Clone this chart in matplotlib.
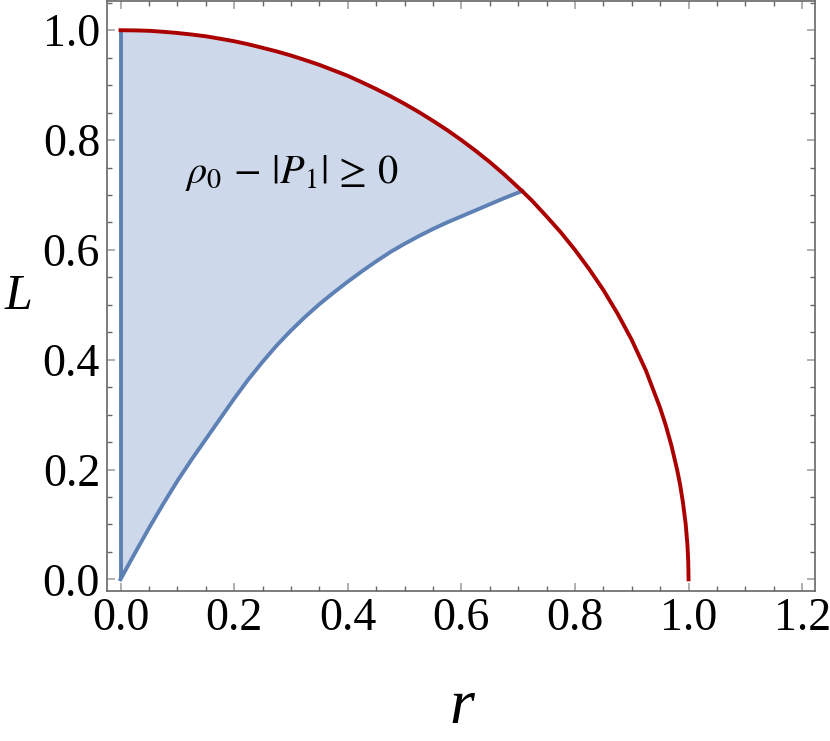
import matplotlib
matplotlib.use("Agg")
from matplotlib import pyplot as plt
from matplotlib.ticker import MultipleLocator

plt.rcParams["mathtext.fontset"] = "stix"

# Limite exterior (arco rojo)
r_arco = [0.0, 0.025, 0.05, 0.075, 0.1, 0.125, 0.15, 0.175, 0.2, 0.225, 0.25, 0.275, 0.3,
          0.325, 0.35, 0.375, 0.4, 0.425, 0.45, 0.475, 0.5, 0.525, 0.55, 0.575, 0.6, 0.625,
          0.65, 0.675, 0.7071, 0.725, 0.75, 0.775, 0.8, 0.825, 0.85, 0.875, 0.9, 0.925,
          0.95, 0.96, 0.97, 0.98, 0.985, 0.99, 0.995, 0.998, 0.9995, 1.0]
L_arco = [1.0, 0.9997, 0.999, 0.9972, 0.995, 0.9922, 0.989, 0.9846, 0.980, 0.9744, 0.968, 0.9614, 0.954,
          0.9457, 0.937, 0.927, 0.917, 0.9052, 0.893, 0.880, 0.866, 0.8511, 0.835, 0.8182, 0.800, 0.7806,
          0.760, 0.7378, 0.7071, 0.689, 0.661, 0.632, 0.600, 0.565, 0.527, 0.484, 0.436, 0.380,
          0.312, 0.280, 0.243, 0.199, 0.173, 0.141, 0.100, 0.063, 0.032, 0.0]

# Limite inferior de la region (curva azul)
r_inf = [0.0, 0.025, 0.05, 0.075, 0.1, 0.125, 0.15, 0.175, 0.2, 0.225, 0.25, 0.275, 0.3,
         0.325, 0.35, 0.375, 0.4, 0.425, 0.45, 0.475, 0.5, 0.525, 0.55, 0.575, 0.6, 0.625,
         0.65, 0.675, 0.7071]
L_inf = [0.0, 0.047, 0.093, 0.137, 0.179, 0.218, 0.255, 0.292, 0.329, 0.364, 0.396, 0.426, 0.453,
         0.478, 0.501, 0.522, 0.542, 0.561, 0.579, 0.596, 0.611, 0.625, 0.638, 0.650, 0.661, 0.672,
         0.683, 0.694, 0.7071]

azul = "#5e81b5"
rojo = "#aa0000"
gris = "#666666"

fig = plt.figure(figsize=(8.3, 7.41), dpi=100)
ax = fig.add_axes([0.1289, 0.2024, 0.982 - 0.1289, 0.9987 - 0.2024])

# Relleno de la region entre la curva azul y el arco
n_sup = r_arco.index(0.7071) + 1
poly_x = [0.0] + r_inf + r_arco[:n_sup][::-1]
poly_y = [0.0] + L_inf + L_arco[:n_sup][::-1]
ax.fill(poly_x, poly_y, color="#cdd9ea", lw=0, zorder=1)

ax.plot([0.0, 0.0], [0.0, 1.0], color=azul, lw=2.8, solid_capstyle="butt", zorder=2)
ax.plot(r_inf, L_inf, color=azul, lw=2.8, zorder=2)
ax.plot(r_arco, L_arco, color=rojo, lw=2.8, zorder=3)

ax.text(0.1136, 0.722, r"$\rho_0\,-\,|P_1|\,\geq\,0$", fontsize=29, va="baseline", ha="left")

ax.set_xlim(-0.0238, 1.2227)
ax.set_ylim(-0.0213, 1.0533)

ax.xaxis.set_minor_locator(MultipleLocator(0.05))
ax.yaxis.set_minor_locator(MultipleLocator(0.05))
ax.set_xticks([0, 0.2, 0.4, 0.6, 0.8, 1.0, 1.2])
ax.set_xticklabels(["0.0", "0.2", "0.4", "0.6", "0.8", "1.0", "1.2"])
ax.set_yticks([0, 0.2, 0.4, 0.6, 0.8, 1.0])
ax.set_yticklabels(["0.0", "0.2", "0.4", "0.6", "0.8", "1.0"])

ax.tick_params(which="both", direction="in", top=True, right=True)
ax.tick_params(which="major", length=6, width=1.3, color="#aaaaaa", pad=5)
ax.tick_params(which="minor", length=3.8, width=1.0, color=gris)
for lab in ax.get_xticklabels() + ax.get_yticklabels():
    lab.set_fontfamily("Liberation Serif")
    lab.set_fontsize(33)
for s in ax.spines.values():
    s.set_color(gris)
    s.set_linewidth(1.2)

fig.text(462 / 830, 1 - 708 / 741, "r", fontsize=46, fontstyle="italic",
         fontfamily="Liberation Serif", ha="center", va="center")
fig.text(18 / 830, 1 - 297 / 741, "L", fontsize=36, fontstyle="italic",
         fontfamily="Liberation Serif", ha="center", va="center")

fig.savefig("out.png", dpi=100)
plt.close(fig)
